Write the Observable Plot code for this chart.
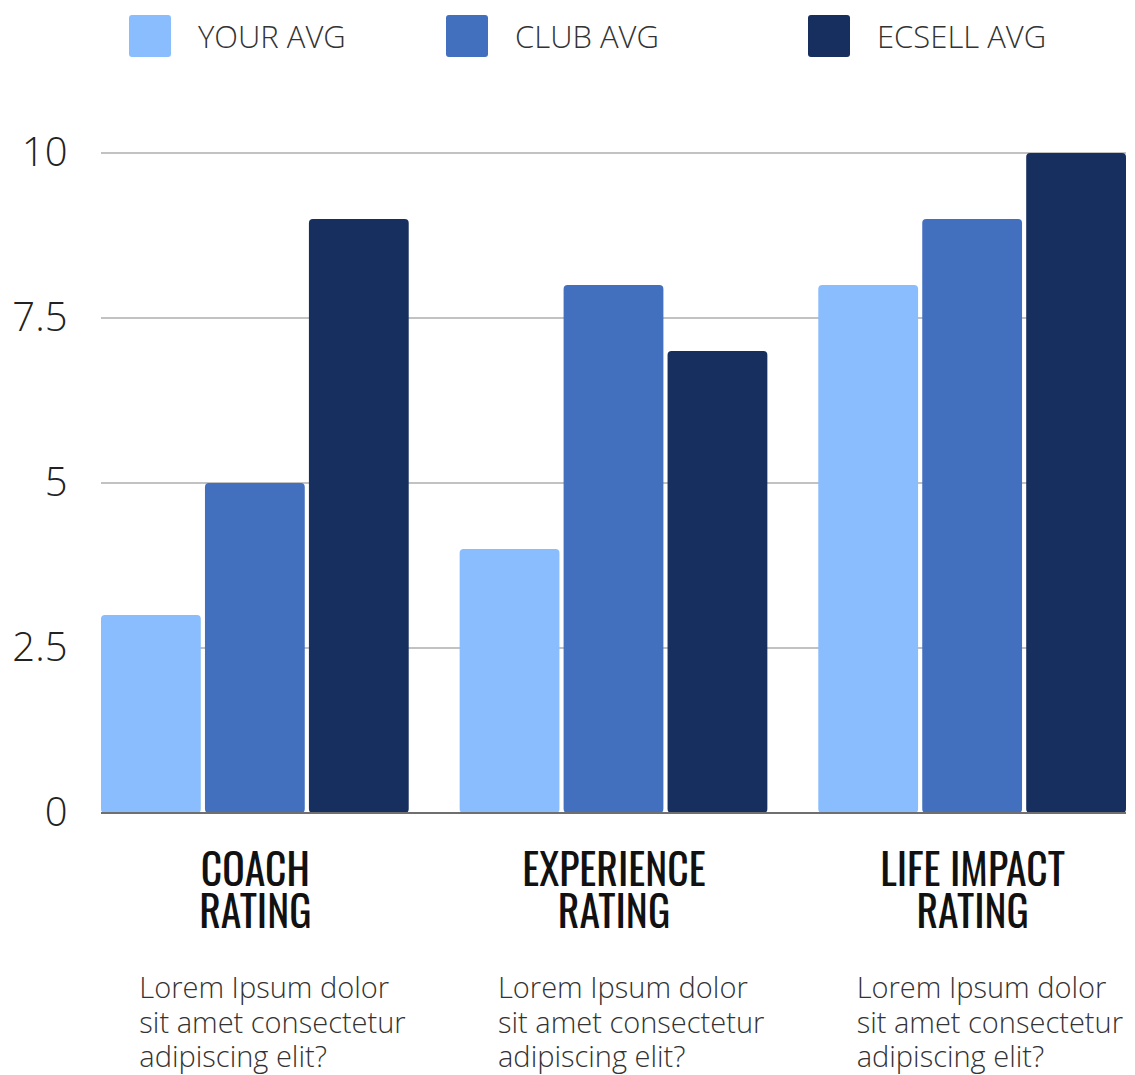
<!DOCTYPE html>
<html>
<head>
<meta charset="utf-8">
<script src="https://cdn.jsdelivr.net/npm/d3@7"></script>
<script src="https://cdn.jsdelivr.net/npm/@observablehq/plot@0.6"></script>
<style>
  html, body { margin: 0; padding: 0; background: #fff; }
  #wrap { position: relative; width: 1135px; height: 1075px; overflow: hidden; }
  #legend { position: absolute; left: 0; top: 0; width: 1135px; height: 80px; }
  .item { position: absolute; top: 15px; height: 42px; display: flex; align-items: center; }
  .sw { width: 42px; height: 42px; border-radius: 3px; }
  .lab { font-family: "Open Sans", sans-serif; font-weight: 300; font-size: 31px; color: #333; margin-left: 27px; white-space: nowrap; }
  #chart { position: absolute; left: 0; top: 0; }
</style>
</head>
<body>
<div id="wrap">
  <div id="chart"></div>
  <div id="legend"></div>
</div>
<script>
const categories = ["COACH\nRATING", "EXPERIENCE\nRATING", "LIFE IMPACT\nRATING"];
const seriesNames = ["YOUR AVG", "CLUB AVG", "ECSELL AVG"];
const yourAvg = [3, 4, 8];
const clubAvg = [5, 8, 9];
const ecsellAvg = [9, 7, 10];
const yTicks = [0, 2.5, 5, 7.5, 10];
const descriptions = [
  "Lorem Ipsum dolor\nsit amet consectetur\nadipiscing elit?",
  "Lorem Ipsum dolor\nsit amet consectetur\nadipiscing elit?",
  "Lorem Ipsum dolor\nsit amet consectetur\nadipiscing elit?"
];
const colors = ["#8abdfd", "#436fbf", "#172f5f"];

const seriesValues = [yourAvg, clubAvg, ecsellAvg];
const rows = [];
categories.forEach((c, i) => {
  seriesNames.forEach((s, j) => rows.push({category: c, series: s, value: seriesValues[j][i]}));
});
const descRows = categories.map((c, i) => ({category: c, text: descriptions[i]}));

// Legend
const legend = document.getElementById("legend");
const legendLeft = [129, 446, 808];
seriesNames.forEach((s, j) => {
  const it = document.createElement("div");
  it.className = "item";
  it.style.left = legendLeft[j] + "px";
  const sw = document.createElement("div");
  sw.className = "sw";
  sw.style.background = colors[j];
  const lb = document.createElement("div");
  lb.className = "lab";
  lb.textContent = s;
  it.appendChild(sw); it.appendChild(lb);
  legend.appendChild(it);
});

// full-width horizontal rules across all facets, positioned by the y scale
function fullWidthRules(values, stroke) {
  return Plot.frame({
    facet: "super", stroke: "none", fill: "none",
    render(index, scales, channels, dims) {
      const g = d3.create("svg:g");
      for (const v of values) {
        const y = Math.round(scales.y(v));
        g.append("line")
          .attr("x1", dims.marginLeft).attr("x2", dims.width - dims.marginRight)
          .attr("y1", y).attr("y2", y)
          .attr("stroke", stroke).attr("stroke-width", 2);
      }
      return g.node();
    }
  });
}

const chart = Plot.plot({
  width: 1135,
  height: 1075,
  marginTop: 153,
  marginBottom: 262,
  marginLeft: 101,
  marginRight: 9,
  style: {background: "transparent"},
  fx: {domain: categories, paddingInner: 0.142, paddingOuter: 0, round: false, label: null},
  x: {domain: seriesNames, paddingInner: 0.04, paddingOuter: 0, round: false, axis: null},
  y: {domain: [0, 10], label: null},
  color: {domain: seriesNames, range: colors},
  marks: [
    fullWidthRules(yTicks.filter(d => d > 0), "#c2c2c2"),
    Plot.barY(rows, {fx: "category", x: "series", y: "value", fill: "series", rx: 4}),
    fullWidthRules([0], "#6f6f6f"),
    Plot.axisY({
      ticks: yTicks, tickFormat: d => String(d), tickSize: 0, tickPadding: 34, label: null,
      fontSize: 40, fontFamily: "'Open Sans', sans-serif", fontWeight: 300, fill: "#222"
    }),
    Plot.axisFx({
      anchor: "bottom", tickSize: 0, tickPadding: 42, label: null,
      fontSize: 42.5, lineHeight: 1, fontWeight: "normal",
      fontFamily: "Oswald, 'DejaVu Sans Condensed', 'DejaVu Sans', sans-serif",
      fill: "#111", lineAnchor: "top"
    }),
    Plot.text(descRows, {
      fx: "category", text: "text", frameAnchor: "bottom", textAnchor: "start",
      lineAnchor: "top", dx: -116, dy: 160, fontSize: 29, lineHeight: 1.19,
      fontFamily: "'Open Sans', sans-serif", fontWeight: 300, fill: "#333"
    })
  ]
});
document.getElementById("chart").appendChild(chart);

// narrow the category labels to the reference's condensed letterforms
const fxTexts = chart.querySelectorAll('g[aria-label="fx-axis tick label"] text');
let factor = 1;
fxTexts.forEach(t => {
  const spans = t.querySelectorAll("tspan");
  if (spans.length && spans[0].textContent === "COACH") {
    factor = 109 / spans[0].getComputedTextLength();
  }
});
fxTexts.forEach(t => {
  const spans = t.querySelectorAll("tspan");
  (spans.length ? spans : [t]).forEach(s => {
    const L = s.getComputedTextLength();
    s.setAttribute("textLength", (L * factor).toFixed(1));
    s.setAttribute("lengthAdjust", "spacingAndGlyphs");
  });
});
</script>
</body>
</html>
